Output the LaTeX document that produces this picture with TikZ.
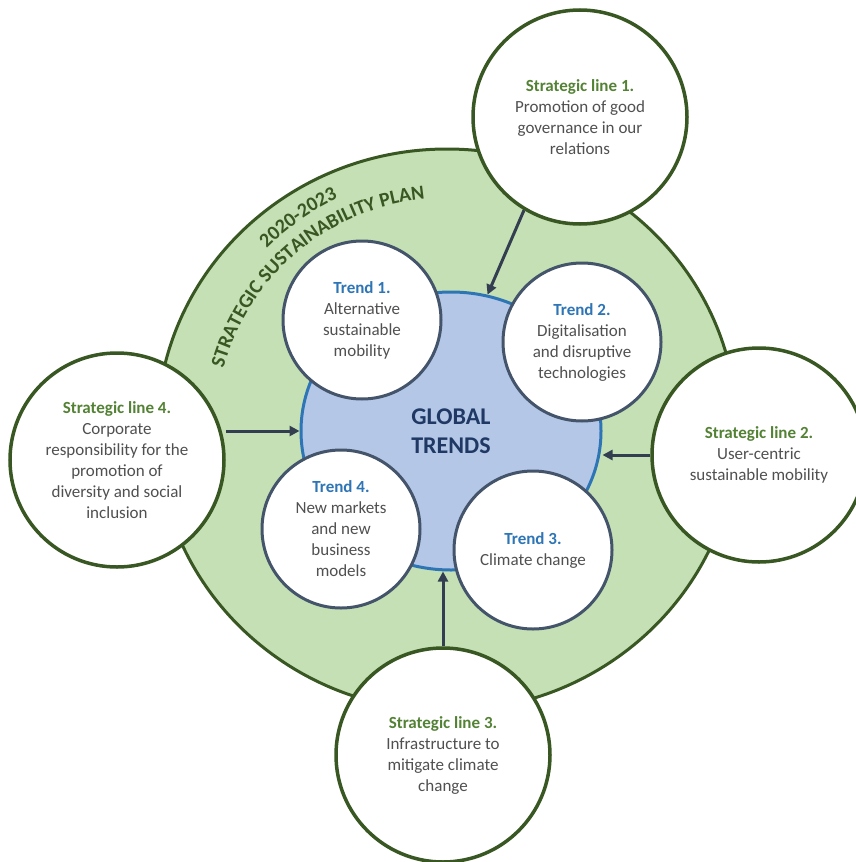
\documentclass[tikz,border=0pt]{standalone}
\usepackage{fontspec}
\setmainfont{Carlito}
\usetikzlibrary{arrows.meta,shapes.geometric,decorations.text}
\definecolor{ringfill}{HTML}{C5E0B4}
\definecolor{ringline}{HTML}{385723}
\definecolor{corefill}{HTML}{B4C7E7}
\definecolor{coreline}{HTML}{2E75B6}
\definecolor{trendline}{HTML}{44546A}
\definecolor{linegreen}{HTML}{548235}
\definecolor{bodygray}{HTML}{505050}
\definecolor{navy}{HTML}{1F3864}
\definecolor{arrowcol}{HTML}{333F50}
\newcommand{\trend}[1]{\textcolor{coreline}{\bfseries Trend #1.}}
\newcommand{\sline}[1]{\textcolor{linegreen}{\bfseries Strategic line #1.}}

\begin{document}
\begin{tikzpicture}[x=1pt, y=-1pt,
  txt/.style={font=\fontsize{17}{21}\selectfont, text=bodygray, align=center, inner sep=0pt},
  trendc/.style={txt, circle, draw=trendline, line width=3pt, fill=white, minimum size=158pt},
  linec/.style={txt, circle, draw=ringline, line width=3.5pt, fill=white, minimum size=214pt},
  arr/.style={-{Triangle[length=10pt,width=10pt]}, draw=arrowcol, fill=arrowcol, line width=3pt},
  arctext/.style={decorate, decoration={text along path, text align=center, text color=ringline}}]
\useasboundingbox (0,0) rectangle (855,862);
% plan ring and its title
\node[ellipse, draw=ringline, line width=3pt, fill=ringfill, minimum width=580pt, minimum height=562pt] (plan) at (447,430) {};
\path[arctext, decoration={text={|\fontsize{20}{24}\selectfont\bfseries|2020-2023}}]
  (plan.center) ++(205:256) arc[start angle=205, end angle=265, radius=256];
\path[arctext, decoration={text={|\fontsize{20}{24}\selectfont\bfseries|STRATEGIC SUSTAINABILITY PLAN}}]
  (plan.center) ++(180:232) arc[start angle=180, end angle=280, radius=232];
% global trends
\node[ellipse, draw=coreline, line width=3pt, fill=corefill, minimum width=300pt, minimum height=278pt,
      align=center, text=navy, font=\bfseries\fontsize{24}{29}\selectfont] (core) at (451,431) {GLOBAL\\TRENDS};
\node[trendc] (t1) at (362,320) {\trend{1}\\Alternative\\sustainable\\mobility};
\node[trendc] (t2) at (582,342) {\trend{2}\\Digitalisation\\and disruptive\\technologies};
\node[trendc] (t3) at (533,550) {\trend{3}\\Climate change};
\node[trendc] (t4) at (341,529) {\trend{4}\\New markets\\and new\\business\\models};
% strategic lines
\node[linec] (sl1) at (580,117) {\sline{1}\\Promotion of good\\governance in our\\relations};
\node[linec] (sl2) at (759,455) {\sline{2}\\User-centric\\sustainable mobility};
\node[linec] (sl3) at (443,755) {\sline{3}\\Infrastructure to\\mitigate climate\\change};
\node[linec] (sl4) at (117,460) {\sline{4}\\Corporate\\responsibility for the\\promotion of\\diversity and social\\inclusion};
\draw[arr] (sl1.239) -- (core.75);
\draw[arr] (sl2.west) -- (sl2.west -| core.east);
\draw[arr] (sl3.north) -- (sl3.north |- core.south);
\draw[arr] (sl4.east |- core.west) -- (core.west);
\end{tikzpicture}
\end{document}
